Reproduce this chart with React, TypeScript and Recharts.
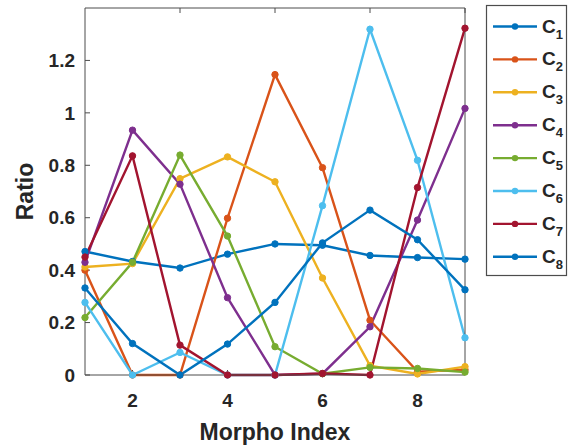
import { LineChart, Line, XAxis, YAxis } from "recharts";

const morpho = [1, 2, 3, 4, 5, 6, 7, 8, 9];
const c1 = [0.471, 0.433, 0.408, 0.461, 0.5, 0.495, 0.456, 0.448, 0.442];
const c2 = [0.4, 0, 0, 0.598, 1.146, 0.791, 0.209, 0.013, 0.02];
const c3 = [0.412, 0.425, 0.749, 0.832, 0.737, 0.37, 0.036, 0.004, 0.032];
const c4 = [0.43, 0.934, 0.728, 0.295, 0, 0.005, 0.184, 0.591, 1.017];
const c5 = [0.219, 0.43, 0.839, 0.53, 0.108, 0.005, 0.029, 0.025, 0.011];
const c6 = [0.277, 0, 0.086, 0, 0, 0.646, 1.319, 0.819, 0.142];
const c7 = [0.45, 0.836, 0.114, 0, 0, 0.006, 0, 0.715, 1.323];
const c8 = [0.332, 0.12, 0, 0.118, 0.277, 0.504, 0.629, 0.516, 0.325];

const xTicks = [2, 4, 6, 8];
const yTicks = [0, 0.2, 0.4, 0.6, 0.8, 1, 1.2];

const series = [
  { key: "c1", sub: "1", values: c1, color: "#0072BD" },
  { key: "c2", sub: "2", values: c2, color: "#D95319" },
  { key: "c3", sub: "3", values: c3, color: "#EDB120" },
  { key: "c4", sub: "4", values: c4, color: "#7E2F8E" },
  { key: "c5", sub: "5", values: c5, color: "#77AC30" },
  { key: "c6", sub: "6", values: c6, color: "#4DBEEE" },
  { key: "c7", sub: "7", values: c7, color: "#A2142F" },
  { key: "c8", sub: "8", values: c8, color: "#0072BD" },
];

const data = morpho.map((x, i) => {
  const row: Record<string, number> = { x };
  series.forEach((s) => (row[s.key] = s.values[i]));
  return row;
});

const font = "'Liberation Sans', Arial, Helvetica, sans-serif";
const axisColor = "#4d4d4d";
const tickStyle = { fill: "#262626", fontSize: 19, fontWeight: "bold", fontFamily: font };

const YLabel = (props: any) => {
  const { x, y, width, height } = props.viewBox;
  const cx = x + width - 52;
  const cy = y + height / 2;
  return (
    <text
      x={cx}
      y={cy}
      transform={`rotate(-90, ${cx}, ${cy})`}
      textAnchor="middle"
      fill="#262626"
      fontSize={23}
      fontWeight="bold"
      fontFamily={font}
    >
      Ratio
    </text>
  );
};

const XLabel = (props: any) => {
  const { x, y, width } = props.viewBox;
  return (
    <text
      x={x + width / 2}
      y={y + 65}
      textAnchor="middle"
      fill="#262626"
      fontSize={23}
      fontWeight="bold"
      fontFamily={font}
    >
      Morpho Index
    </text>
  );
};

function LegendBox() {
  return (
    <svg
      width={84}
      height={274}
      style={{ position: "absolute", left: 485, top: 4 }}
    >
      <rect x={1.5} y={1.5} width={80} height={270} fill="white" stroke={axisColor} strokeWidth={1.2} />
      {series.map((s, i) => {
        const cy = 22.5 + i * 32.9;
        return (
          <g key={s.key}>
            <line x1={8} x2={52} y1={cy} y2={cy} stroke={s.color} strokeWidth={2.4} />
            <circle cx={30} cy={cy} r={3.2} fill={s.color} />
            <text
              x={57}
              y={cy + 6}
              fill="#262626"
              fontSize={19}
              fontWeight="bold"
              fontFamily={font}
            >
              C
              <tspan fontSize={13} dy={6}>
                {s.sub}
              </tspan>
            </text>
          </g>
        );
      })}
    </svg>
  );
}

export default function App() {
  return (
    <div style={{ position: "absolute", left: 0, top: 0, width: 573, height: 448, background: "white" }}>
      <LineChart
        width={573}
        height={448}
        data={data}
        margin={{ top: 7, right: 107, bottom: 43, left: 55 }}
      >
        <XAxis
          dataKey="x"
          type="number"
          domain={[1, 9]}
          ticks={xTicks}
          height={30}
          stroke={axisColor}
          tickSize={-5}
          tickMargin={24}
          tick={tickStyle}
          label={<XLabel />}
        />
        <XAxis
          xAxisId="top"
          orientation="top"
          type="number"
          domain={[1, 9]}
          ticks={xTicks}
          height={1}
          stroke={axisColor}
          tickSize={-5}
          tickFormatter={() => ""}
        />
        <YAxis
          type="number"
          domain={[0, 1.4]}
          ticks={yTicks}
          width={30}
          stroke={axisColor}
          tickSize={-5}
          tickMargin={15}
          tick={tickStyle}
          label={<YLabel />}
        />
        <YAxis
          yAxisId="right"
          orientation="right"
          type="number"
          domain={[0, 1.4]}
          ticks={yTicks}
          width={1}
          stroke={axisColor}
          tickSize={-5}
          tickFormatter={() => ""}
        />
        {series.map((s) => (
          <Line
            key={s.key}
            dataKey={s.key}
            stroke={s.color}
            strokeWidth={2.4}
            dot={{ r: 3.2, fill: s.color, stroke: s.color, strokeWidth: 1 }}
            isAnimationActive={false}
          />
        ))}
      </LineChart>
      <LegendBox />
    </div>
  );
}
